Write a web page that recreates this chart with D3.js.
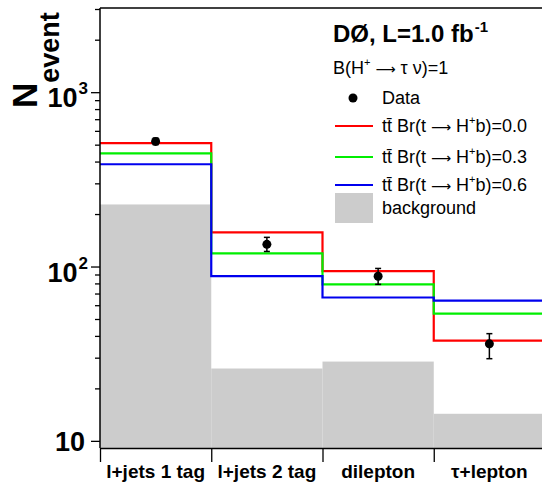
<!DOCTYPE html>
<html>
<head>
<meta charset="utf-8">
<script src="https://cdn.jsdelivr.net/npm/d3@7"></script>
<style>
  body { margin: 0; background: #fff; }
  svg { display: block; font-family: "Liberation Sans", Arial, Helvetica, sans-serif; }
  .arrow { font-family: "DejaVu Sans", sans-serif; }
</style>
</head>
<body>
<svg id="chart"></svg>
<script>
// channels
const categories = ['l+jets 1 tag', 'l+jets 2 tag', 'dilepton', '\u03c4+lepton']
// observed events and error band edges
const dataValues = [522, 134, 88, 36]
const dataLow = [500, 122, 79, 29.6]
const dataHigh = [545, 147, 97.5, 41.2]
// ttbar + background predictions for Br(t -> H+b)
const br00 = [510, 157, 94, 37.6]
const br03 = [446, 119, 79, 53.7]
const br06 = [386, 88, 66.4, 63.8]
const background = [227, 26, 28.5, 14.3]
// y axis
const majorTicks = [10, 100, 1000]
const minorTicks = [20, 30, 40, 50, 60, 70, 80, 90, 200, 300, 400, 500, 600, 700, 800, 900, 2000, 3000]

const conf = {
  width: 542,
  height: 482,
  margin: { top: 8, left: 100, bottom: 34 },
  plotRight: 545,
  yDomain: [9.1, 3040]
}

const { width, height, margin } = conf
const bottom = height - margin.bottom
const ARROW = '\u27f6'

const svg = d3.select('#chart')
  .attr('width', width)
  .attr('height', height)

const x = d3.scaleLinear()
  .domain([0, categories.length])
  .range([margin.left, conf.plotRight])

const y = d3.scaleLog()
  .domain(conf.yDomain)
  .range([bottom, margin.top])

// background histogram
svg.append('g')
  .selectAll('rect')
  .data(background)
  .join('rect')
  .attr('x', (d, i) => x(i))
  .attr('width', (d, i) => x(i + 1) - x(i))
  .attr('y', d => y(d))
  .attr('height', d => bottom - y(d))
  .attr('fill', '#cccccc')

// step lines
const steps = vals => {
  const pts = []
  vals.forEach((v, i) => {
    pts.push([x(i), y(v)])
    pts.push([x(i + 1), y(v)])
  })
  return d3.line()(pts)
}

const series = [
  { vals: br00, color: '#ff0000' },
  { vals: br03, color: '#00ee00' },
  { vals: br06, color: '#0000ee' }
]

svg.append('g')
  .selectAll('path')
  .data(series)
  .join('path')
  .attr('d', d => steps(d.vals))
  .attr('fill', 'none')
  .attr('stroke', d => d.color)
  .attr('stroke-width', 2.2)

// data points
const pts = svg.append('g')
dataValues.forEach((v, i) => {
  const cx = x(i + 0.5)
  pts.append('line')
    .attr('x1', cx).attr('x2', cx)
    .attr('y1', y(dataLow[i])).attr('y2', y(dataHigh[i]))
    .attr('stroke', '#000').attr('stroke-width', 1.5)
  ;[dataLow[i], dataHigh[i]].forEach(e => {
    pts.append('line')
      .attr('x1', cx - 3).attr('x2', cx + 3)
      .attr('y1', y(e)).attr('y2', y(e))
      .attr('stroke', '#000').attr('stroke-width', 1.5)
  })
  pts.append('circle')
    .attr('cx', cx)
    .attr('cy', y(v))
    .attr('r', 4.5)
    .attr('fill', '#000')
})

// frame
svg.append('line')
  .attr('x1', margin.left).attr('x2', width)
  .attr('y1', margin.top).attr('y2', margin.top)
  .attr('stroke', '#000').attr('stroke-width', 1.5)

// y axis
const yMinor = d3.axisLeft(y).tickValues(minorTicks).tickSize(5).tickFormat('').tickSizeOuter(0)
const yMajor = d3.axisLeft(y).tickValues(majorTicks).tickSize(9).tickFormat('').tickSizeOuter(0)

svg.append('g')
  .attr('transform', `translate(${margin.left},0)`)
  .call(yMinor)
  .call(g => g.select('.domain').remove())
  .call(g => g.selectAll('line').attr('stroke-width', 1.3))

svg.append('g')
  .attr('transform', `translate(${margin.left},0)`)
  .call(yMajor)
  .call(g => g.select('.domain').remove())
  .call(g => g.selectAll('line').attr('stroke-width', 1.3))

svg.append('line')
  .attr('x1', margin.left).attr('x2', margin.left)
  .attr('y1', margin.top).attr('y2', bottom)
  .attr('stroke', '#000').attr('stroke-width', 1.5)

const yLabels = svg.append('g')
  .attr('font-weight', 'bold')
  .attr('fill', '#000')
majorTicks.forEach(t => {
  const exp = Math.round(Math.log10(t))
  const txt = yLabels.append('text')
    .attr('text-anchor', 'end')
    .attr('font-size', 27)
  if (exp === 1) {
    txt.attr('x', 85).attr('y', y(t) + 10).text('10')
  } else {
    txt.attr('x', 88).attr('y', y(t) + 15)
    txt.append('tspan').text('10')
    txt.append('tspan')
      .attr('font-size', 17)
      .attr('dy', -13)
      .attr('dx', 1)
      .text(exp)
  }
})

// y title
const yTitle = svg.append('text')
  .attr('transform', 'translate(37,108) rotate(-90)')
  .attr('font-weight', 'bold')
  .attr('font-size', 35)
yTitle.append('tspan').text('N')
yTitle.append('tspan')
  .attr('font-size', 27)
  .attr('dy', 22)
  .text('event')

// x axis
const xAxis = d3.axisBottom(x)
  .tickValues(d3.range(categories.length + 1))
  .tickSize(14)
  .tickSizeOuter(0)
  .tickFormat('')

svg.append('g')
  .attr('transform', `translate(0,${bottom})`)
  .call(xAxis)
  .call(g => g.select('.domain').attr('stroke-width', 1.5))
  .call(g => g.selectAll('.tick line').attr('stroke-width', 1.3))

svg.append('g')
  .selectAll('text')
  .data(categories)
  .join('text')
  .attr('x', (d, i) => x(i + 0.5))
  .attr('y', 478)
  .attr('text-anchor', 'middle')
  .attr('font-weight', 'bold')
  .attr('font-size', 19)
  .text(d => d)

// legend
const legend = svg.append('g')

const header = legend.append('text')
  .attr('x', 333).attr('y', 42)
  .attr('font-weight', 'bold')
  .attr('font-size', 24)
header.append('tspan').text('D\u00d8, L=1.0 fb')
header.append('tspan')
  .attr('font-size', 15)
  .attr('dy', -10)
  .attr('dx', 1)
  .text('-1')

const sub = legend.append('text')
  .attr('x', 333).attr('y', 74)
  .attr('font-size', 18)
sub.append('tspan').text('B(H')
sub.append('tspan').attr('font-size', 11).attr('dy', -8).text('+')
sub.append('tspan').attr('dy', 8).text(' ')
sub.append('tspan').attr('class', 'arrow').attr('font-size', 14).text(ARROW)
sub.append('tspan').text(' \u03c4 \u03bd)=1')

legend.append('circle')
  .attr('cx', 353).attr('cy', 98).attr('r', 4.5).attr('fill', '#000')
legend.append('text')
  .attr('x', 382).attr('y', 104)
  .attr('font-size', 18)
  .text('Data')

const legendRows = [
  { label: '0.0', color: '#ff0000', y: 126 },
  { label: '0.3', color: '#00ee00', y: 157 },
  { label: '0.6', color: '#0000ee', y: 185 }
]

legendRows.forEach(r => {
  legend.append('line')
    .attr('x1', 335).attr('x2', 373)
    .attr('y1', r.y).attr('y2', r.y)
    .attr('stroke', r.color).attr('stroke-width', 2.2)
  const t = legend.append('text')
    .attr('x', 382).attr('y', r.y + 6)
    .attr('font-size', 18)
  t.append('tspan').text('tt\u0304 Br(t ')
  t.append('tspan').attr('class', 'arrow').attr('font-size', 14).text(ARROW)
  t.append('tspan').text(' H')
  t.append('tspan').attr('font-size', 11).attr('dy', -8).text('+')
  t.append('tspan').attr('dy', 8).text('b)=' + r.label)
})

legend.append('rect')
  .attr('x', 335).attr('y', 193)
  .attr('width', 38).attr('height', 30)
  .attr('fill', '#cccccc')
legend.append('text')
  .attr('x', 382).attr('y', 214)
  .attr('font-size', 18)
  .text('background')
</script>
</body>
</html>
